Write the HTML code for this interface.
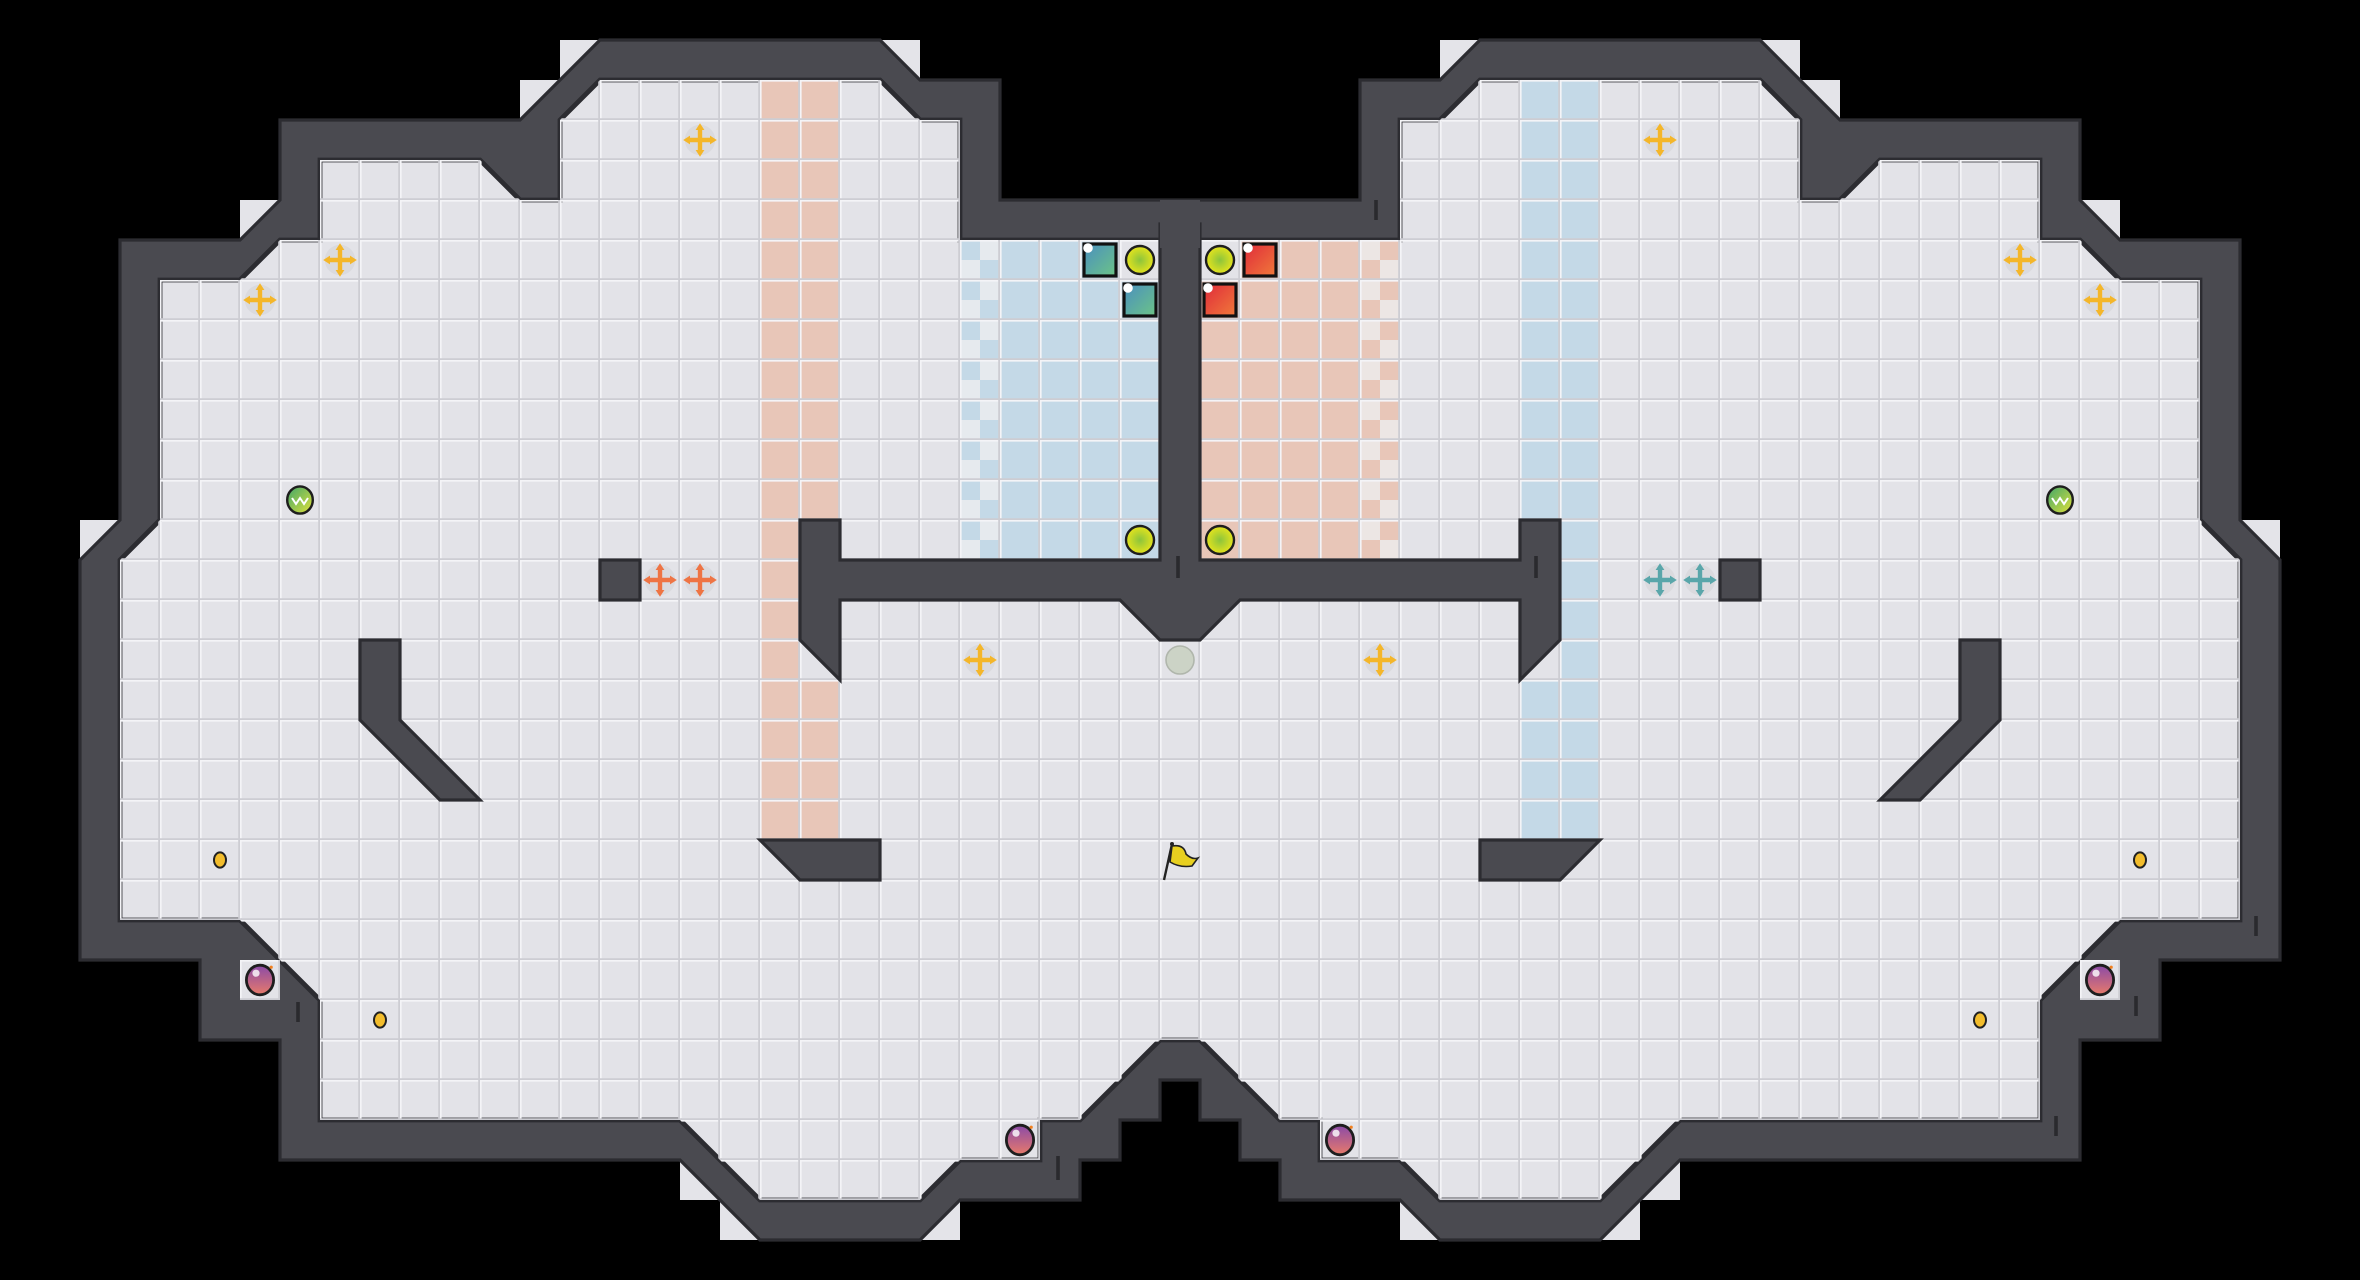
<!DOCTYPE html>
<html><head><meta charset="utf-8"><style>
html,body{margin:0;padding:0;background:#000;}
svg{display:block;}
</style></head><body>
<svg width="2360" height="1280" viewBox="0 0 59 32" xmlns="http://www.w3.org/2000/svg">
<defs>
<pattern id="grid" width="1" height="1" patternUnits="userSpaceOnUse">
<path d="M0 0.02H1M0.02 0V1" stroke="#f4f4f7" stroke-width="0.04" fill="none"/>
<path d="M0 0.98H1M0.98 0V1" stroke="#cdcdd3" stroke-width="0.05" fill="none"/>
</pattern>
<pattern id="chkB" width="1" height="1" patternUnits="userSpaceOnUse">
<rect width="1" height="1" fill="#e6eaee"/>
<rect x="0" y="0" width="0.5" height="0.5" fill="#c4d9e7"/>
<rect x="0.5" y="0.5" width="0.5" height="0.5" fill="#c4d9e7"/>
</pattern>
<pattern id="chkR" width="1" height="1" patternUnits="userSpaceOnUse">
<rect width="1" height="1" fill="#ece6e4"/>
<rect x="0.5" y="0" width="0.5" height="0.5" fill="#e8c6b8"/>
<rect x="0" y="0.5" width="0.5" height="0.5" fill="#e8c6b8"/>
</pattern>
<g id="cross">
<circle r="0.38" fill="#d6d6da" opacity="0.7"/>
<path d="M-0.28 0H0.28M0 -0.28V0.28" stroke="currentColor" stroke-width="0.11"/>
<polygon points="0,-0.42 -0.11,-0.25 0.11,-0.25" fill="currentColor"/>
<polygon points="0,0.42 -0.11,0.25 0.11,0.25" fill="currentColor"/>
<polygon points="-0.42,0 -0.25,-0.11 -0.25,0.11" fill="currentColor"/>
<polygon points="0.42,0 0.25,-0.11 0.25,0.11" fill="currentColor"/>
</g>
<radialGradient id="yg"><stop offset="0" stop-color="#8cc43c"/><stop offset="1" stop-color="#e6e41c"/></radialGradient>
<linearGradient id="gr" x1="0" y1="0" x2="1" y2="1"><stop offset="0" stop-color="#3fa66a"/><stop offset="1" stop-color="#e2e23a"/></linearGradient>
<linearGradient id="tq" x1="0" y1="0" x2="1" y2="1"><stop offset="0" stop-color="#4a8fc0"/><stop offset="1" stop-color="#6cc486"/></linearGradient>
<linearGradient id="rd" x1="0" y1="0" x2="1" y2="1"><stop offset="0" stop-color="#e02a3a"/><stop offset="1" stop-color="#f07a3a"/></linearGradient>
<linearGradient id="pp" x1="0" y1="0" x2="0" y2="1"><stop offset="0" stop-color="#8a4aa8"/><stop offset="1" stop-color="#e87a6a"/></linearGradient>
<g id="potion"><ellipse rx="0.34" ry="0.37" fill="url(#pp)" stroke="#1e1e1e" stroke-width="0.07"/><circle cx="-0.1" cy="-0.17" r="0.09" fill="#fff" opacity="0.8"/><circle cx="0.28" cy="-0.32" r="0.04" fill="#f08020"/></g>
<g id="ycirc"><circle r="0.35" fill="url(#yg)" stroke="#1e1e1e" stroke-width="0.06"/></g>
<g id="gold"><ellipse rx="0.15" ry="0.19" fill="#f3bd2c" stroke="#222" stroke-width="0.05"/></g>
</defs>

<rect width="59" height="32" fill="#000"/>

<g fill="#e4e4e9">
<rect x="22" y="1" width="1" height="1"/><rect x="14" y="1" width="1" height="1"/><rect x="13" y="2" width="1" height="1"/>
<rect x="6" y="5" width="1" height="1"/><rect x="2" y="13" width="1" height="1"/>
<rect x="17" y="29" width="1" height="1"/><rect x="18" y="30" width="1" height="1"/><rect x="23" y="30" width="1" height="1"/>
<rect x="36" y="1" width="1" height="1"/><rect x="44" y="1" width="1" height="1"/><rect x="45" y="2" width="1" height="1"/>
<rect x="52" y="5" width="1" height="1"/><rect x="56" y="13" width="1" height="1"/>
<rect x="41" y="29" width="1" height="1"/><rect x="40" y="30" width="1" height="1"/><rect x="35" y="30" width="1" height="1"/>
</g>

<polygon fill="#4a4a50" stroke="#2c2c31" stroke-width="0.08" points="29.5,5 25,5 25,2 23,2 22,1 15,1 13,3 7,3 7,5 6,6 3,6 3,13 2,14 2,24 5,24 5,26 7,26 7,29 17,29 19,31 23,31 24,30 27,30 27,29 28,29 28,28 29,28 29,27 30,27 30,28 31,28 31,29 32,29 32,30 35,30 36,31 40,31 42,29 52,29 52,26 54,26 54,24 57,24 57,14 56,13 56,6 53,6 52,5 52,3 46,3 44,1 37,1 36,2 34,2 34,5"/>

<polygon fill="#e3e3e8" stroke="#2c2c31" stroke-width="0.12" points="24,6 24,3 23,3 22,2 15,2 14,3 14,5 13,5 12,4 8,4 8,6 7,6 6,7 4,7 4,13 3,14 3,23 6,23 8,25 8,28 17,28 19,30 23,30 24,29 26,29 26,28 27,28 29,26 30,26 32,28 33,28 33,29 35,29 36,30 40,30 42,28 51,28 51,25 53,23 56,23 56,14 55,13 55,7 53,7 52,6 51,6 51,4 47,4 46,5 45,5 45,3 44,2 37,2 36,3 35,3 35,6"/>
<rect x="6" y="24" width="1" height="1" fill="#e3e3e8"/>
<rect x="52" y="24" width="1" height="1" fill="#e3e3e8"/>

<g fill="#e8c6b8">
<rect x="19" y="2" width="1" height="19"/><rect x="20" y="2" width="1" height="11"/><rect x="20" y="17" width="1" height="4"/>
<rect x="30" y="6" width="4" height="8"/>
</g>
<g fill="#c4d9e7">
<rect x="39" y="2" width="1" height="19"/><rect x="38" y="2" width="1" height="11"/><rect x="38" y="17" width="1" height="4"/>
<rect x="25" y="6" width="4" height="8"/>
</g>
<rect x="24" y="6" width="1" height="8" fill="url(#chkB)"/>
<rect x="34" y="6" width="1" height="8" fill="url(#chkR)"/>
<rect x="28" y="6" width="1" height="1" fill="#e3e3e8"/>
<rect x="30" y="6" width="1" height="1" fill="#e3e3e8"/>

<polygon fill="url(#grid)" points="24,6 24,3 23,3 22,2 15,2 14,3 14,5 13,5 12,4 8,4 8,6 7,6 6,7 4,7 4,13 3,14 3,23 6,23 8,25 8,28 17,28 19,30 23,30 24,29 26,29 26,28 27,28 29,26 30,26 32,28 33,28 33,29 35,29 36,30 40,30 42,28 51,28 51,25 53,23 56,23 56,14 55,13 55,7 53,7 52,6 51,6 51,4 47,4 46,5 45,5 45,3 44,2 37,2 36,3 35,3 35,6"/>
<rect x="6" y="24" width="1" height="1" fill="url(#grid)"/>
<rect x="52" y="24" width="1" height="1" fill="url(#grid)"/>

<g fill="#4a4a50" stroke="#2c2c31" stroke-width="0.08">
<polygon points="20,13 21,13 21,14 29,14 29,5.6 30,5.6 30,14 38,14 38,13 39,13 39,16 38,17 38,15 31,15 30,16 29,16 28,15 21,15 21,17 20,16"/>
<rect x="15" y="14" width="1" height="1"/><rect x="43" y="14" width="1" height="1"/>
<polygon points="9,16 10,16 10,18 12,20 11,20 9,18"/>
<polygon points="50,16 49,16 49,18 47,20 48,20 50,18"/>
<polygon points="19,21 22,21 22,22 20,22"/>
<polygon points="40,21 37,21 37,22 39,22"/>
</g>
<rect x="29" y="5" width="1" height="1.2" fill="#4a4a50"/>

<g stroke="#2a2a2e" stroke-width="0.09">
<path d="M7.45 25.05V25.55M26.45 28.9V29.5"/>
<path d="M34.4 5V5.5M29.45 13.9V14.45M38.4 13.9V14.45"/>
<path d="M56.4 22.9V23.4M53.4 24.9V25.4M51.4 27.9V28.4"/>
</g>

<g color="#f4b62a">
<use href="#cross" transform="translate(17.5,3.5)"/>
<use href="#cross" transform="translate(8.5,6.5)"/>
<use href="#cross" transform="translate(6.5,7.5)"/>
<use href="#cross" transform="translate(24.5,16.5)"/>
<use href="#cross" transform="translate(34.5,16.5)"/>
<use href="#cross" transform="translate(41.5,3.5)"/>
<use href="#cross" transform="translate(50.5,6.5)"/>
<use href="#cross" transform="translate(52.5,7.5)"/>
</g>
<g color="#ee7444">
<use href="#cross" transform="translate(16.5,14.5)"/>
<use href="#cross" transform="translate(17.5,14.5)"/>
</g>
<g color="#5aa6aa">
<use href="#cross" transform="translate(41.5,14.5)"/>
<use href="#cross" transform="translate(42.5,14.5)"/>
</g>

<g>
<ellipse cx="7.5" cy="12.5" rx="0.32" ry="0.34" fill="url(#gr)" stroke="#1e1e1e" stroke-width="0.06"/>
<path d="M7.3 12.45L7.4 12.6L7.5 12.45L7.6 12.6L7.7 12.45" stroke="#fff" stroke-width="0.05" fill="none"/>
<ellipse cx="51.5" cy="12.5" rx="0.32" ry="0.34" fill="url(#gr)" stroke="#1e1e1e" stroke-width="0.06"/>
<path d="M51.3 12.45L51.4 12.6L51.5 12.45L51.6 12.6L51.7 12.45" stroke="#fff" stroke-width="0.05" fill="none"/>
</g>

<g stroke="#111" stroke-width="0.08">
<rect x="27.1" y="6.1" width="0.8" height="0.8" fill="url(#tq)"/>
<rect x="28.1" y="7.1" width="0.8" height="0.8" fill="url(#tq)"/>
<rect x="31.1" y="6.1" width="0.8" height="0.8" fill="url(#rd)"/>
<rect x="30.1" y="7.1" width="0.8" height="0.8" fill="url(#rd)"/>
</g>
<g fill="#fff">
<circle cx="27.2" cy="6.2" r="0.12"/><circle cx="28.2" cy="7.2" r="0.12"/><circle cx="31.2" cy="6.2" r="0.12"/><circle cx="30.2" cy="7.2" r="0.12"/>
</g>

<use href="#ycirc" transform="translate(28.5,6.5)"/>
<use href="#ycirc" transform="translate(30.5,6.5)"/>
<use href="#ycirc" transform="translate(28.5,13.5)"/>
<use href="#ycirc" transform="translate(30.5,13.5)"/>

<circle cx="29.5" cy="16.5" r="0.35" fill="#ccd3c6" stroke="#b0b6ac" stroke-width="0.04"/>

<g>
<path d="M29.1 22.0L29.3 21.1" stroke="#222" stroke-width="0.06"/>
<path d="M29.3 21.15Q29.6 21.1 29.65 21.35Q29.8 21.5 29.95 21.45L29.8 21.65Q29.5 21.7 29.25 21.55Z" fill="#e8d020" stroke="#222" stroke-width="0.04"/>
<circle cx="29.3" cy="21.1" r="0.05" fill="#222"/>
</g>

<use href="#gold" transform="translate(5.5,21.5)"/>
<use href="#gold" transform="translate(9.5,25.5)"/>
<use href="#gold" transform="translate(53.5,21.5)"/>
<use href="#gold" transform="translate(49.5,25.5)"/>

<use href="#potion" transform="translate(6.5,24.5)"/>
<use href="#potion" transform="translate(25.5,28.5)"/>
<use href="#potion" transform="translate(33.5,28.5)"/>
<use href="#potion" transform="translate(52.5,24.5)"/>
</svg>
</body></html>
